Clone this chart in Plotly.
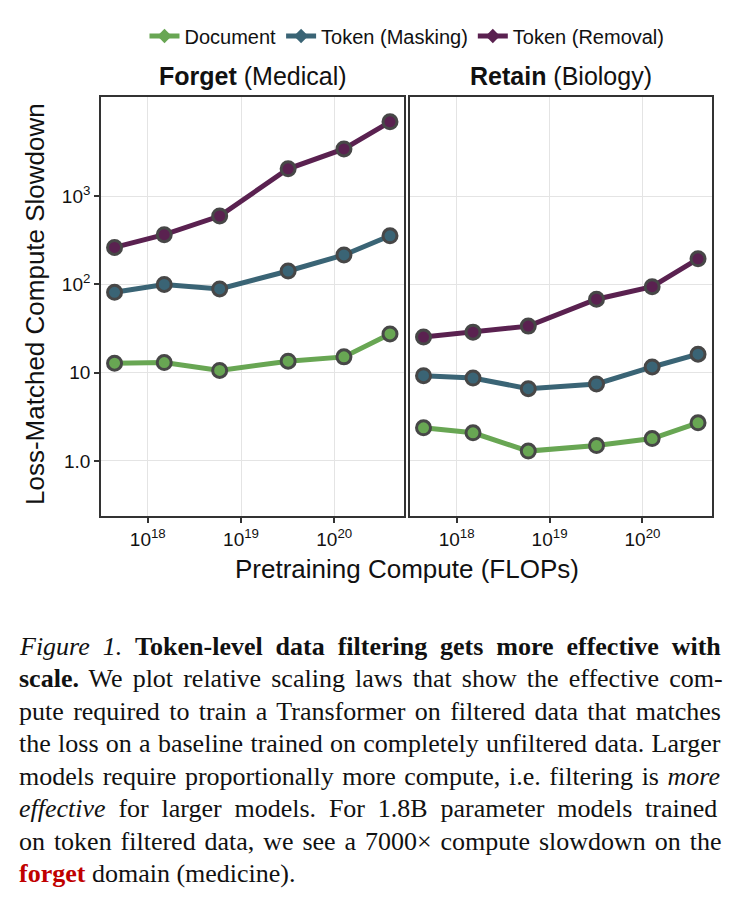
import plotly.graph_objects as go
from plotly.subplots import make_subplots

# ---------------- data ----------------
compute = [4.4e17, 1.5e18, 5.9e18, 3.2e19, 1.27e20, 3.96e20]

forget_document = [12.8, 13.0, 10.6, 13.5, 15.1, 27.5]
forget_masking = [81.5, 100, 89, 142, 216, 356]
forget_removal = [263, 367, 597, 2046, 3440, 6980]

retain_document = [2.37, 2.08, 1.29, 1.49, 1.79, 2.70]
retain_masking = [9.25, 8.7, 6.58, 7.45, 11.6, 16.2]
retain_removal = [25.3, 28.8, 33.7, 68, 94.4, 195]

series_names = ["Document", "Token (Masking)", "Token (Removal)"]
series_colors = ["#68a653", "#3a6475", "#5a2150"]

y_tickvals = [1, 10, 100, 1000]
y_ticktext = ["1.0", "10", "10<sup>2</sup>", "10<sup>3</sup>"]
x_tickvals = [1e18, 1e19, 1e20]
x_ticktext = ["10<sup>18</sup>", "10<sup>19</sup>", "10<sup>20</sup>"]

panel_titles = ["<b>Forget</b> (Medical)", "<b>Retain</b> (Biology)"]
x_title = "Pretraining Compute (FLOPs)"
y_title = "Loss-Matched Compute Slowdown"

caption_lines = [
    "<i>Figure 1.</i> <b>Token-level data filtering gets more effective with</b>",
    "<b>scale.</b> We plot relative scaling laws that show the effective com-",
    "pute required to train a Transformer on filtered data that matches",
    "the loss on a baseline trained on completely unfiltered data. Larger",
    "models require proportionally more compute, i.e. filtering is <i>more</i>",
    "<i>effective</i> for larger models. For 1.8B parameter models trained",
    "on token filtered data, we see a 7000× compute slowdown on the",
    "<span style='color:#c00000'><b>forget</b></span> domain (medicine).",
]
# word spacing (px) per caption line, to justify the block like the reference
caption_word_spacing = [6.4, 3.6, 2.9, 0.8, 2.1, 6.3, 2.4, 0.0]

# ---------------- figure ----------------
W, H = 739, 904
SANS = "Liberation Sans"
SERIF = "Liberation Serif"

fig = make_subplots(rows=1, cols=2, shared_yaxes=False, horizontal_spacing=0.0)

panels = [
    [forget_document, forget_masking, forget_removal],
    [retain_document, retain_masking, retain_removal],
]
for p, data in enumerate(panels):
    for i, vals in enumerate(data):
        fig.add_trace(
            go.Scatter(
                x=compute, y=vals, mode="lines+markers", name=series_names[i],
                line=dict(color=series_colors[i], width=5),
                marker=dict(color=series_colors[i], size=14,
                            line=dict(color="#474747", width=3)),
                showlegend=False, legendgroup=series_names[i],
            ),
            row=1, col=p + 1,
        )
# legend entries (no outline on the legend glyph)
for i in range(3):
    fig.add_trace(
        go.Scatter(
            x=[None], y=[None], mode="lines+markers", name=series_names[i],
            line=dict(color=series_colors[i], width=5),
            marker=dict(color=series_colors[i], size=11, symbol="diamond",
                        line=dict(width=0)),
            showlegend=True, legendgroup=series_names[i],
        ),
        row=1, col=1,
    )

def px_x(v):
    return v / W

def px_y(v):
    return 1 - v / H

top, bottom = 97, 516
ydom = [px_y(bottom), px_y(top)]
xdoms = [[px_x(101), px_x(404)], [px_x(410), px_x(712)]]

axis_common = dict(
    showline=True, linecolor="#333333", linewidth=1.6, mirror=True,
    showgrid=True, gridcolor="#e4e4e4", gridwidth=1, zeroline=False,
)
for k in range(2):
    xa = "xaxis" if k == 0 else "xaxis2"
    ya = "yaxis" if k == 0 else "yaxis2"
    fig.layout[xa].update(
        type="log", domain=xdoms[k], range=[17.498, 20.748],
        tickvals=x_tickvals, ticktext=x_ticktext, ticks="outside", ticklen=5,
        tickcolor="#333333", tickwidth=1.5,
        tickfont=dict(family=SANS, size=19, color="#111111"), **axis_common,
    )
    fig.layout[ya].update(
        type="log", domain=ydom, range=[-0.625, 4.125],
        tickvals=y_tickvals, ticktext=y_ticktext,
        ticks="outside" if k == 0 else "", ticklen=5,
        tickcolor="#333333", tickwidth=1.5,
        showticklabels=(k == 0),
        tickfont=dict(family=SANS, size=19, color="#111111"), **axis_common,
    )

annotations = []
for k in range(2):
    cx = (xdoms[k][0] + xdoms[k][1]) / 2
    annotations.append(dict(
        text=panel_titles[k], x=cx, y=px_y(76), xref="paper", yref="paper",
        showarrow=False, xanchor="center", yanchor="middle",
        font=dict(family=SANS, size=25, color="#111111"),
    ))
annotations.append(dict(
    text=x_title, x=px_x(407), y=px_y(569), xref="paper", yref="paper",
    showarrow=False, xanchor="center", yanchor="middle",
    font=dict(family=SANS, size=26, color="#111111"),
))
annotations.append(dict(
    text=y_title, x=px_x(35), y=px_y(304), xref="paper", yref="paper",
    showarrow=False, xanchor="center", yanchor="middle", textangle=-90,
    font=dict(family=SANS, size=26, color="#111111"),
))
line_y0, line_dy = 646, 32.5
for j, line in enumerate(caption_lines):
    txt = "<span style='word-spacing:%.1fpx'>%s</span>" % (caption_word_spacing[j], line)
    annotations.append(dict(
        text=txt, x=px_x(17), y=px_y(line_y0 + j * line_dy),
        xref="paper", yref="paper", showarrow=False,
        xanchor="left", yanchor="middle", align="left",
        font=dict(family=SERIF, size=26, color="#111111"),
    ))

fig.update_layout(
    width=W, height=H, margin=dict(l=0, r=0, t=0, b=0),
    paper_bgcolor="white", plot_bgcolor="white",
    annotations=annotations,
    legend=dict(
        orientation="h", x=px_x(407), y=px_y(36), xanchor="center", yanchor="middle",
        font=dict(family=SANS, size=20, color="#111111"),
        itemwidth=30, tracegroupgap=0, bgcolor="rgba(0,0,0,0)",
    ),
)

fig.write_html("out.html")
